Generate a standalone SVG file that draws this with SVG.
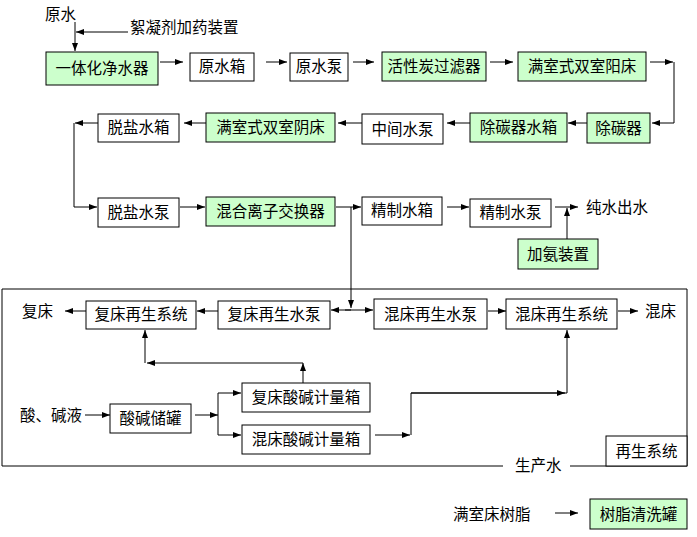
<svg xmlns="http://www.w3.org/2000/svg" width="697" height="537" viewBox="0 0 697 537">
<style>
.b{fill:#fff;stroke:#000;stroke-width:1}
.g{fill:#ccffcc;stroke:#000;stroke-width:1}
text{font-family:"Noto Sans CJK SC","Noto Sans",sans-serif;font-size:15.5px;fill:#000}
.c{text-anchor:middle}
#connectors line,#connectors path{stroke:#000;stroke-width:1;fill:none}
.a{marker-end:url(#ah)}
</style>
<defs>
<marker id="ah" markerWidth="8" markerHeight="6" refX="8" refY="3" orient="auto" markerUnits="userSpaceOnUse">
<path d="M0,0 L8,3 L0,6 z" fill="#000"/>
</marker>
</defs>
<rect width="697" height="537" fill="#fff"/>
<g id="frame">
<path d="M503,466 L2,466 L2,289 L687,289 L687,466 L570,466" fill="none" stroke="#000" stroke-width="1"/>
<text x="515" y="471">生产水</text>
</g>
<g id="connectors">
<line class="a" x1="75" y1="22" x2="75" y2="51"/>
<line class="a" x1="128" y1="32" x2="76" y2="32"/>
<line class="a" x1="160" y1="62" x2="183" y2="62"/>
<line class="a" x1="266" y1="62" x2="287" y2="62"/>
<line class="a" x1="353" y1="62" x2="374" y2="62"/>
<line class="a" x1="490" y1="62" x2="513" y2="62"/>
<line class="a" x1="650" y1="62" x2="673" y2="62"/>
<path class="a" d="M674,62 L674,123 L652,123"/>
<line class="a" x1="587" y1="123" x2="568" y2="123"/>
<line class="a" x1="470" y1="123" x2="447" y2="123"/>
<line class="a" x1="362" y1="123" x2="338" y2="123"/>
<line class="a" x1="206" y1="123" x2="184" y2="123"/>
<line class="a" x1="98" y1="123" x2="75" y2="123"/>
<path class="a" d="M74,123 L74,207 L97,207"/>
<line class="a" x1="180" y1="207" x2="205" y2="207"/>
<line class="a" x1="336" y1="207" x2="361" y2="207"/>
<line class="a" x1="351" y1="207" x2="351" y2="308"/>
<line class="a" x1="447" y1="207" x2="469" y2="207"/>
<line class="a" x1="555" y1="207" x2="578" y2="207"/>
<line class="a" x1="567" y1="239" x2="567" y2="208"/>
<line class="a" x1="351" y1="310" x2="331" y2="310"/>
<line class="a" x1="345" y1="310" x2="373" y2="310"/>
<line class="a" x1="218" y1="311" x2="197" y2="311"/>
<line class="a" x1="86" y1="311" x2="65" y2="311"/>
<line class="a" x1="303" y1="383" x2="303" y2="363"/>
<line class="a" x1="303" y1="363" x2="147" y2="363"/>
<line class="a" x1="145" y1="363" x2="145" y2="330"/>
<line class="a" x1="85" y1="415" x2="110" y2="415"/>
<line class="a" x1="195" y1="415" x2="218" y2="415"/>
<line x1="218" y1="393" x2="218" y2="435"/>
<line class="a" x1="218" y1="393" x2="241" y2="393"/>
<line class="a" x1="218" y1="435" x2="241" y2="435"/>
<line class="a" x1="375" y1="435" x2="410" y2="435"/>
<path d="M411,435 L411,393 L567,393"/>
<line class="a" x1="411" y1="393" x2="565" y2="393"/>
<line class="a" x1="567" y1="393" x2="567" y2="330"/>
<line class="a" x1="488" y1="311" x2="506" y2="311"/>
<line class="a" x1="618" y1="311" x2="638" y2="311"/>
<line class="a" x1="555" y1="513" x2="578" y2="513"/>
</g>
<g id="labels">
<text x="45" y="20">原水</text>
<text x="130" y="33">絮凝剂加药装置</text>
<text x="22" y="317">复床</text>
<text x="645" y="317">混床</text>
<text x="20" y="421">酸、碱液</text>
<text x="586" y="213">纯水出水</text>
<text x="453" y="520">满室床树脂</text>
</g>
<g id="n1"><rect class="g" x="46" y="52" width="112" height="33"/><text class="c" x="102" y="74">一体化净水器</text></g>
<g id="n2"><rect class="b" x="190" y="53" width="64" height="28"/><text class="c" x="222" y="72">原水箱</text></g>
<g id="n3"><rect class="b" x="290" y="53" width="58" height="28"/><text class="c" x="319" y="72">原水泵</text></g>
<g id="n4"><rect class="g" x="382" y="52" width="104" height="29"/><text class="c" x="434" y="72">活性炭过滤器</text></g>
<g id="n5"><rect class="g" x="518" y="52" width="128" height="29"/><text class="c" x="582" y="72">满室式双室阳床</text></g>
<g id="n6"><rect class="g" x="587" y="113" width="63" height="30"/><text class="c" x="618.5" y="134">除碳器</text></g>
<g id="n7"><rect class="g" x="470" y="113" width="97" height="29"/><text class="c" x="518.5" y="133">除碳器水箱</text></g>
<g id="n8"><rect class="b" x="362" y="114" width="81" height="30"/><text class="c" x="402.5" y="135">中间水泵</text></g>
<g id="n9"><rect class="g" x="206" y="113" width="129" height="29"/><text class="c" x="270.5" y="133">满室式双室阴床</text></g>
<g id="n10"><rect class="b" x="98" y="114" width="81" height="28"/><text class="c" x="138.5" y="133">脱盐水箱</text></g>
<g id="n11"><rect class="b" x="98" y="198" width="81" height="29"/><text class="c" x="138.5" y="218">脱盐水泵</text></g>
<g id="n12"><rect class="g" x="206" y="197" width="129" height="29"/><text class="c" x="270.5" y="217">混合离子交换器</text></g>
<g id="n13"><rect class="b" x="362" y="197" width="80" height="28"/><text class="c" x="402" y="216">精制水箱</text></g>
<g id="n14"><rect class="b" x="470" y="199" width="81" height="28"/><text class="c" x="510.5" y="218">精制水泵</text></g>
<g id="n15"><rect class="g" x="518" y="239" width="80" height="30"/><text class="c" x="558" y="260">加氨装置</text></g>
<g id="n16"><rect class="b" x="86" y="301" width="110" height="28"/><text class="c" x="141" y="320">复床再生系统</text></g>
<g id="n17"><rect class="b" x="218" y="301" width="112" height="28"/><text class="c" x="274" y="320">复床再生水泵</text></g>
<g id="n18"><rect class="b" x="374" y="299" width="113" height="30"/><text class="c" x="430.5" y="320">混床再生水泵</text></g>
<g id="n19"><rect class="b" x="506" y="299" width="111" height="30"/><text class="c" x="561.5" y="320">混床再生系统</text></g>
<g id="n20"><rect class="b" x="110" y="404" width="81" height="29"/><text class="c" x="150.5" y="424">酸碱储罐</text></g>
<g id="n21"><rect class="b" x="242" y="383" width="128" height="29"/><text class="c" x="306" y="403">复床酸碱计量箱</text></g>
<g id="n22"><rect class="b" x="242" y="425" width="128" height="29"/><text class="c" x="306" y="445">混床酸碱计量箱</text></g>
<g id="n23"><rect class="b" x="606" y="436" width="81" height="30"/><text class="c" x="646.5" y="457">再生系统</text></g>
<g id="n24"><rect class="g" x="590" y="499" width="97" height="30"/><text class="c" x="638.5" y="520">树脂清洗罐</text></g>
</svg>
